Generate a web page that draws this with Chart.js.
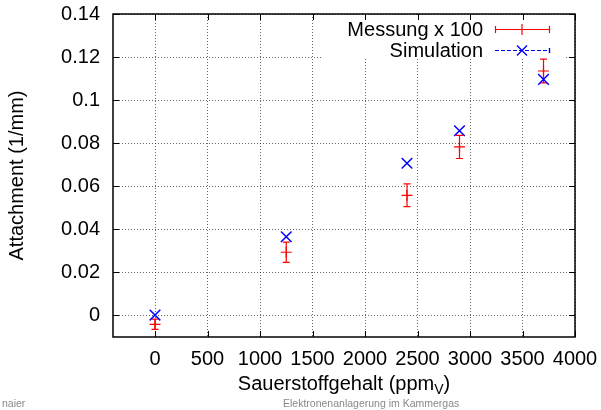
<!DOCTYPE html>
<html>
<head>
<meta charset="utf-8">
<script src="https://cdn.jsdelivr.net/npm/chart.js@4"></script>
<style>
  body { margin: 0; background: #fff; }
  #wrap { position: relative; width: 601px; height: 410px; }
  .foot { position: absolute; font-family: "Liberation Sans", sans-serif; font-size: 10.5px; color: #888; }
</style>
</head>
<body>
<div id="wrap">
  <canvas id="myChart" width="601" height="410"></canvas>
  <div class="foot" style="left:2px; top:397px;">naier</div>
  <div class="foot" style="left:283px; top:397px;">Elektronenanlagerung im Kammergas</div>
</div>
<script>
// werte
const sauerstoff = [0, 1250, 2400, 2900, 3700];
const messung = [-0.0043, 0.0292, 0.0557, 0.0782, 0.1135];
const messungFehler = [0.0024, 0.0047, 0.0053, 0.0054, 0.0055];
const simulation = [0.0, 0.0364, 0.0706, 0.0857, 0.1096];
const xTicks = [0, 500, 1000, 1500, 2000, 2500, 3000, 3500, 4000];
const yTicks = [0, 0.02, 0.04, 0.06, 0.08, 0.1, 0.12, 0.14];
const labelMessung = 'Messung x 100';
const labelSimulation = 'Simulation';

const FONT = '"Liberation Sans", Arial, sans-serif';
const FS = 20;

const errorBars = {
  id: 'errorBars',
  beforeDatasetsDraw(chart) {
    const ctx = chart.ctx;
    const x = chart.scales.x, y = chart.scales.y;
    // legend box hides grid
    ctx.save();
    ctx.fillStyle = '#fff';
    ctx.fillRect(323, 15, 241, 43);
    ctx.strokeStyle = '#ff0000';
    ctx.lineWidth = 1.2;
    sauerstoff.forEach((s, i) => {
      const px = x.getPixelForValue(s);
      const top = y.getPixelForValue(messung[i] + messungFehler[i]);
      const bot = y.getPixelForValue(messung[i] - messungFehler[i]);
      ctx.beginPath();
      ctx.moveTo(px, top); ctx.lineTo(px, bot);
      ctx.moveTo(px - 3.5, top); ctx.lineTo(px + 3.5, top);
      ctx.moveTo(px - 3.5, bot); ctx.lineTo(px + 3.5, bot);
      ctx.stroke();
    });
    ctx.restore();
  },
  afterDraw(chart) {
    const ctx = chart.ctx;
    const a = chart.chartArea;
    const x = chart.scales.x, y = chart.scales.y;
    ctx.save();
    // rahmen
    ctx.strokeStyle = '#000';
    ctx.lineWidth = 1.5;
    ctx.strokeRect(a.left, a.top, a.right - a.left, a.bottom - a.top);
    // ticks nach innen, alle vier seiten
    ctx.lineWidth = 1;
    ctx.beginPath();
    xTicks.forEach(v => {
      const px = Math.round(x.getPixelForValue(v)) + 0.5;
      ctx.moveTo(px, a.bottom); ctx.lineTo(px, a.bottom - 6);
      ctx.moveTo(px, a.top); ctx.lineTo(px, a.top + 6);
    });
    yTicks.forEach(v => {
      const py = Math.round(y.getPixelForValue(v)) + 0.5;
      ctx.moveTo(a.left, py); ctx.lineTo(a.left + 6, py);
      ctx.moveTo(a.right, py); ctx.lineTo(a.right - 6, py);
    });
    ctx.stroke();

    // legende
    ctx.font = FS + 'px ' + FONT;
    ctx.fillStyle = '#000';
    ctx.textAlign = 'right';
    ctx.textBaseline = 'middle';
    ctx.fillText(labelMessung, 483, 30);
    ctx.fillText(labelSimulation, 483, 51);

    ctx.strokeStyle = '#ff0000';
    ctx.lineWidth = 1.2;
    ctx.beginPath();
    ctx.moveTo(495, 29.5); ctx.lineTo(550, 29.5);
    ctx.moveTo(495.5, 26); ctx.lineTo(495.5, 33);
    ctx.moveTo(549.5, 26); ctx.lineTo(549.5, 33);
    ctx.moveTo(516.5, 29.5); ctx.lineTo(527.5, 29.5);
    ctx.moveTo(522, 24); ctx.lineTo(522, 35);
    ctx.stroke();

    ctx.strokeStyle = '#0000ff';
    ctx.beginPath();
    ctx.setLineDash([4, 2]);
    ctx.moveTo(495, 50.5); ctx.lineTo(550, 50.5);
    ctx.stroke();
    ctx.setLineDash([]);
    ctx.lineWidth = 1.4;
    ctx.beginPath();
    ctx.moveTo(549.5, 48); ctx.lineTo(549.5, 53);
    ctx.moveTo(517, 45.5); ctx.lineTo(527, 55.5);
    ctx.moveTo(527, 45.5); ctx.lineTo(517, 55.5);
    ctx.stroke();

    // x achsentitel mit index
    ctx.fillStyle = '#000';
    ctx.textAlign = 'left';
    ctx.textBaseline = 'alphabetic';
    ctx.font = FS + 'px ' + FONT;
    const t1 = 'Sauerstoffgehalt (ppm', sub = 'V', t2 = ')';
    const w1 = ctx.measureText(t1).width;
    const w2 = ctx.measureText(t2).width;
    ctx.font = '14px ' + FONT;
    const ws = ctx.measureText(sub).width;
    const startX = (a.left + a.right) / 2 - (w1 + ws + w2) / 2;
    const base = 390;
    ctx.font = FS + 'px ' + FONT;
    ctx.fillText(t1, startX, base);
    ctx.font = '14px ' + FONT;
    ctx.fillText(sub, startX + w1, base + 4);
    ctx.font = FS + 'px ' + FONT;
    ctx.fillText(t2, startX + w1 + ws, base);

    // y achsentitel
    ctx.translate(17, (a.top + a.bottom) / 2);
    ctx.rotate(-Math.PI / 2);
    ctx.textAlign = 'center';
    ctx.textBaseline = 'middle';
    ctx.fillText('Attachment (1/mm)', 0, 0);
    ctx.restore();
  }
};

const ctx = document.querySelector('#myChart');

new Chart(ctx, {
  type: 'scatter',
  data: {
    datasets: [{
      label: labelMessung,
      data: sauerstoff.map((s, i) => ({ x: s, y: messung[i] })),
      pointStyle: 'cross',
      pointRadius: 5.5,
      pointHoverRadius: 5.5,
      borderColor: '#ff0000',
      backgroundColor: '#ff0000',
      borderWidth: 1.2,
      order: 2
    }, {
      label: labelSimulation,
      data: sauerstoff.map((s, i) => ({ x: s, y: simulation[i] })),
      pointStyle: 'crossRot',
      pointRadius: 7.5,
      pointHoverRadius: 7.5,
      borderColor: '#0000ff',
      backgroundColor: '#0000ff',
      borderWidth: 1.5,
      order: 1
    }]
  },
  options: {
    responsive: false,
    animation: false,
    events: [],
    layout: { padding: { top: 14, right: 26, left: 0, bottom: 0 } },
    plugins: { legend: { display: false }, tooltip: { enabled: false } },
    scales: {
      x: {
        type: 'linear',
        min: -400,
        max: 4000,
        afterFit(scale) {
          scale.height = 73;
          scale.paddingLeft = 0; scale.paddingRight = 0;
        },
        afterBuildTicks(scale) { scale.ticks = xTicks.map(v => ({ value: v })); },
        grid: { color: 'rgba(0,0,0,0.6)', drawTicks: false },
        border: { display: false, dash: [1, 2] },
        ticks: {
          padding: 10,
          color: '#000',
          font: { family: FONT, size: FS },
          maxRotation: 0,
          autoSkip: false,
          callback: v => String(v)
        }
      },
      y: {
        type: 'linear',
        min: -0.0102,
        max: 0.14,
        afterFit(scale) {
          scale.width = 113;
          scale.paddingTop = 0; scale.paddingBottom = 0;
        },
        afterBuildTicks(scale) { scale.ticks = yTicks.map(v => ({ value: v })); },
        grid: { color: 'rgba(0,0,0,0.6)', drawTicks: false },
        border: { display: false, dash: [1, 2] },
        ticks: {
          padding: 13,
          color: '#000',
          font: { family: FONT, size: FS },
          autoSkip: false,
          callback: v => String(Number(v.toFixed(2)))
        }
      }
    }
  },
  plugins: [errorBars]
});
</script>
</body>
</html>
